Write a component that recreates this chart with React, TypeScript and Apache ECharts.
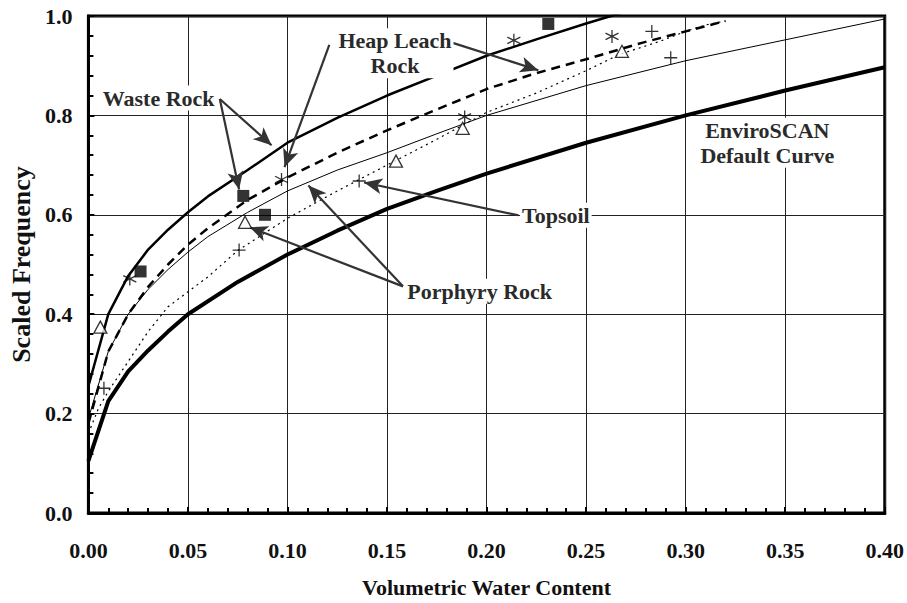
import { useEffect, useRef } from "react";
import * as echarts from "echarts";

// Curves: [volumetric water content, scaled frequency]
const wasteRockCurve = [
  [0, 0.255], [0.01, 0.4], [0.02, 0.477], [0.03, 0.53], [0.04, 0.57], [0.05, 0.605],
  [0.06, 0.637], [0.08, 0.69], [0.1, 0.745], [0.125, 0.795], [0.15, 0.84], [0.175, 0.88],
  [0.2, 0.92], [0.225, 0.953], [0.25, 0.985], [0.275, 1.015],
];
const heapLeachCurve = [
  [0, 0.18], [0.01, 0.325], [0.02, 0.4], [0.03, 0.455], [0.04, 0.5], [0.05, 0.54],
  [0.06, 0.573], [0.08, 0.63], [0.1, 0.675], [0.125, 0.725], [0.15, 0.77], [0.175, 0.812],
  [0.2, 0.853], [0.225, 0.885], [0.25, 0.913], [0.278, 0.946], [0.3, 0.969], [0.32, 0.99],
];
const porphyryCurve = [
  [0, 0.19], [0.01, 0.325], [0.02, 0.4], [0.03, 0.45], [0.04, 0.49], [0.05, 0.525],
  [0.06, 0.556], [0.08, 0.605], [0.1, 0.648], [0.125, 0.69], [0.15, 0.725], [0.175, 0.763],
  [0.2, 0.8], [0.25, 0.86], [0.3, 0.91], [0.35, 0.952], [0.4, 0.994],
];
const topsoilCurve = [
  [0, 0.16], [0.005, 0.21], [0.01, 0.245], [0.02, 0.305], [0.03, 0.365], [0.04, 0.415],
  [0.05, 0.445], [0.06, 0.475], [0.075, 0.528], [0.1, 0.593], [0.125, 0.648], [0.15, 0.7],
  [0.175, 0.752], [0.2, 0.806], [0.225, 0.845], [0.25, 0.89], [0.267, 0.923], [0.287, 0.949],
  [0.3, 0.969], [0.31, 0.982], [0.32, 0.99],
];
const defaultCurve = [
  [0, 0.105], [0.01, 0.225], [0.02, 0.285], [0.03, 0.327], [0.04, 0.365], [0.05, 0.4],
  [0.075, 0.465], [0.1, 0.52], [0.125, 0.568], [0.15, 0.612], [0.175, 0.648], [0.2, 0.683],
  [0.25, 0.745], [0.3, 0.8], [0.35, 0.85], [0.4, 0.897],
];

// Measured points
const wasteRockPoints = [[0.0262, 0.486], [0.0778, 0.638], [0.0887, 0.6], [0.231, 0.984]];
const heapLeachPoints = [[0.0208, 0.471], [0.097, 0.671], [0.189, 0.797], [0.2137, 0.951], [0.263, 0.959]];
const porphyryPoints = [[0.006, 0.374], [0.0787, 0.585], [0.1545, 0.708], [0.188, 0.774], [0.268, 0.929]];
const topsoilPoints = [[0.0078, 0.251], [0.0757, 0.529], [0.136, 0.668], [0.283, 0.969], [0.2925, 0.916]];

// Annotations (data coordinates)
const labelTexts = ["Waste Rock", "Heap Leach\nRock", "Topsoil", "Porphyry Rock", "EnviroSCAN\nDefault Curve"];
const labelCoords = [[0.0353, 0.835], [0.154, 0.925], [0.2348, 0.599], [0.1965, 0.446], [0.341, 0.745]];
const arrowStarts = [
  [0.066, 0.833], [0.066, 0.833], [0.183, 0.946], [0.121, 0.942], [0.216, 0.599], [0.158, 0.456], [0.158, 0.456],
];
const arrowEnds = [
  [0.0757, 0.651], [0.092, 0.74], [0.226, 0.891], [0.0985, 0.696], [0.1385, 0.665], [0.081, 0.575], [0.1105, 0.659],
];

const xTickFormat = (v: number) => v.toFixed(2);
const yTickFormat = (v: number) => v.toFixed(1);

const FONT = "Liberation Serif";

export default function App() {
  const ref = useRef<HTMLDivElement>(null);
  useEffect(() => {
    const chart = echarts.init(ref.current!, null, { renderer: "svg" });
    const lineSeries = (data: number[][], width: number, type: any, z = 3) => ({
      type: "line",
      data,
      symbol: "none",
      showSymbol: false,
      smooth: false,
      clip: true,
      z,
      lineStyle: { color: "#000", width, type },
    });
    const asterisk = "path://M6,0L6,12M1,3L11,9M1,9L11,3";
    const plus = "path://M6,0L6,12M0,6L12,6";
    chart.setOption({
      animation: false,
      backgroundColor: "#fff",
      grid: { left: 86, right: 21, top: 16, bottom: 83, show: true, borderColor: "#000", borderWidth: 3, backgroundColor: "transparent" },
      xAxis: {
        type: "value",
        min: 0,
        max: 0.4,
        interval: 0.05,
        name: "Volumetric Water Content",
        nameLocation: "middle",
        nameGap: 63,
        nameTextStyle: { fontFamily: FONT, fontWeight: "bold", fontSize: 22, color: "#111" },
        axisLine: { show: true, lineStyle: { color: "#000", width: 3 } },
        axisTick: { show: true, inside: true, length: 6, lineStyle: { color: "#000", width: 2 } },
        minorTick: { show: true, splitNumber: 5, length: 5, lineStyle: { color: "#000", width: 2 } },
        splitLine: { show: true, lineStyle: { color: "#222", width: 1 } },
        axisLabel: { formatter: xTickFormat, fontFamily: FONT, fontWeight: "bold", fontSize: 22, color: "#111", margin: 26 },
      },
      yAxis: {
        type: "value",
        min: 0,
        max: 1,
        interval: 0.2,
        name: "Scaled Frequency",
        nameLocation: "middle",
        nameGap: 53,
        nameTextStyle: { fontFamily: FONT, fontWeight: "bold", fontSize: 26, color: "#111" },
        axisLine: { show: true, lineStyle: { color: "#000", width: 3 } },
        axisTick: { show: true, inside: true, length: 6, lineStyle: { color: "#000", width: 2 } },
        minorTick: { show: true, splitNumber: 5, length: 5, lineStyle: { color: "#000", width: 2 } },
        splitLine: { show: true, lineStyle: { color: "#222", width: 1 } },
        axisLabel: { formatter: yTickFormat, fontFamily: FONT, fontWeight: "bold", fontSize: 22, color: "#111", margin: 16 },
      },
      series: [
        lineSeries(defaultCurve, 4, "solid"),
        lineSeries(wasteRockCurve, 2.5, "solid"),
        lineSeries(heapLeachCurve, 2.5, [9, 6]),
        lineSeries(porphyryCurve, 1, "solid"),
        lineSeries(topsoilCurve, 1.2, [2, 4]),
        {
          type: "scatter", data: wasteRockPoints, symbol: "rect", symbolSize: 12, z: 5,
          itemStyle: { color: "#000" },
        },
        {
          type: "scatter", data: heapLeachPoints, symbol: asterisk, symbolSize: 13, z: 5,
          itemStyle: { color: "none", borderColor: "#000", borderWidth: 1.3 },
        },
        {
          type: "scatter", data: porphyryPoints, symbol: "triangle", symbolSize: [13, 12], z: 5,
          itemStyle: { color: "#fff", borderColor: "#000", borderWidth: 1.3 },
        },
        {
          type: "scatter", data: topsoilPoints, symbol: plus, symbolSize: 13, z: 5,
          itemStyle: { color: "none", borderColor: "#000", borderWidth: 1.3 },
        },
        {
          type: "line",
          data: [],
          z: 6,
          markLine: {
            silent: true,
            animation: false,
            symbol: ["none", "arrow"],
            symbolSize: [12, 18],
            lineStyle: { color: "#333", width: 2.2, type: "solid" },
            label: { show: false },
            emphasis: { disabled: true },
            data: arrowStarts.map((s, i) => [{ coord: s }, { coord: arrowEnds[i] }]),
          },
          markPoint: {
            silent: true,
            animation: false,
            symbol: "rect",
            symbolSize: 1,
            itemStyle: { color: "rgba(0,0,0,0)" },
            label: {
              show: true,
              position: "inside",
              fontFamily: FONT,
              fontWeight: "bold",
              fontSize: 22,
              lineHeight: 25,
              color: "#2a2a2a",
              align: "center",
              backgroundColor: "#fff",
              padding: [0, 2],
            },
            data: labelTexts.map((t, i) => ({ coord: labelCoords[i], value: 0, label: { formatter: t } })),
          },
        },
      ],
    });
    return () => chart.dispose();
  }, []);
  return (
    <div
      ref={ref}
      style={{ position: "fixed", left: 0, top: 0, width: 907, height: 603, background: "#fff" }}
    />
  );
}
